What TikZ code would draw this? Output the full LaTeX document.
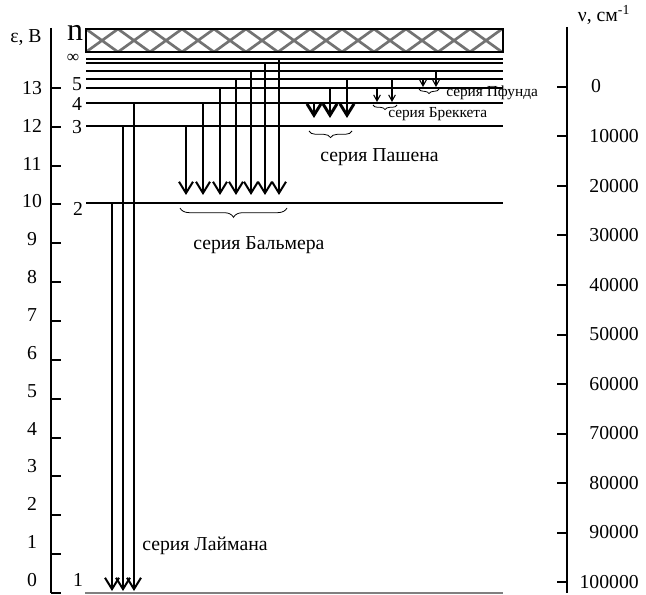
\documentclass[tikz,border=0pt]{standalone}
\usepackage{fontspec}
\setmainfont{Liberation Serif}
\usetikzlibrary{arrows.meta,decorations.pathreplacing}
\begin{document}
\begin{tikzpicture}[x=0.75pt,y=-0.75pt,
  lbl/.style={font=\fontsize{14.8}{17}\selectfont,inner sep=0pt},
  sml/.style={font=\fontsize{11.5}{13}\selectfont,inner sep=0pt},
  level/.style={line width=1.5pt},
  trans/.style={line width=1.5pt,-{Straight Barb[length=8.5pt,width=10.5pt]}},
  thintrans/.style={line width=0.8pt,-{Straight Barb[length=4.5pt,width=5pt]}},
  series/.style={decorate,decoration={brace,mirror,amplitude=#1},line width=0.6pt}]
\useasboundingbox (0,0) rectangle (646,595);
% Energieachse links
\draw[line width=1.5pt] (51,28) -- (51,593);
\foreach \e in {0,...,13}{\draw[line width=1.5pt] (51,593-38.85*\e) -- ++(10,0);
 \node[lbl] (e\e) at (32,580-37.85*\e) {\e};}
\node[lbl] (eps) at (26,38) {ε, В};
% Wellenzahlachse rechts
\draw[line width=1.5pt] (567,27) -- (567,593);
\foreach \k in {0,...,10}{\draw[line width=1.5pt] (567,87+49.5*\k) -- ++(-10,0);}
\node[lbl] (w0) at (596,86) {0};
\foreach \k in {1,...,10}{\node[lbl,anchor=east] (w\k) at (639,87+49.5*\k) {\k0000};}
\node[lbl] (nu) at (604,15) {ν, см\textsuperscript{-1}};
% Kontinuum
\begin{scope}
 \clip (86,29) rectangle (503,52);
 \foreach \c in {70,102,...,534}{\draw[black!55,line width=2pt] (\c-16,29) -- (\c+16,52) (\c+16,29) -- (\c-16,52);}
\end{scope}
\draw[line width=2pt] (86,29) rectangle (503,52);
% Niveaus
\draw[gray,line width=1pt] (85,593) -- (503,593);
\foreach \y in {203,126,103,88,79,71.5,63.5,59.5}{\draw[level] (86,\y) -- (503,\y);}
\node[font=\fontsize{24}{26}\selectfont,inner sep=0pt] (n) at (75,33) {n};
\node[font=\fontsize{13}{14}\selectfont,inner sep=0pt] (ninf) at (73,58) {∞};
\node[lbl] (n5) at (77,84) {5};
\node[lbl] (n4) at (77,104) {4};
\node[lbl] (n3) at (77,127) {3};
\node[lbl] (n2) at (78,209) {2};
\node[lbl] (n1) at (78,580) {1};
% Lyman
\foreach \x/\y in {112/203,123/126,134/103}{\draw[trans] (\x,\y) -- (\x,591);}
\node[lbl,anchor=west] (lyman) at (142,546) {серия Лаймана};
% Balmer
\foreach \x/\y in {186/126,203/103,220/88,236/79,251/71.5,265/63.5,279/59.5}{\draw[trans] (\x,\y) -- (\x,195);}
\draw[series=7pt] (180,208) -- (287,208);
\node[lbl,anchor=west] (balmer) at (193,245) {серия Бальмера};
% Paschen
\foreach \x/\y in {314/103,330/88,347/79}{\draw[trans,line width=2.2pt] (\x,\y) -- (\x,118);}
\draw[series=5pt] (309,131) -- (352,131);
\node[lbl,anchor=west] (paschen) at (320,157) {серия Пашена};
% Brackett
\foreach \x/\y in {377/88,392/79}{\draw[thintrans] (\x,\y) -- (\x,102);}
\draw[series=3.5pt] (373,105) -- (397,105);
\node[sml,anchor=west] (brackett) at (388,114) {серия Бреккета};
% Pfund
\foreach \x/\y in {423/79,436/71.5}{\draw[thintrans] (\x,\y) -- (\x,87);}
\draw[series=3.5pt] (419,89) -- (439,89);
\node[sml,anchor=west] (pfund) at (446,93) {серия Пфунда};
\end{tikzpicture}
\end{document}
